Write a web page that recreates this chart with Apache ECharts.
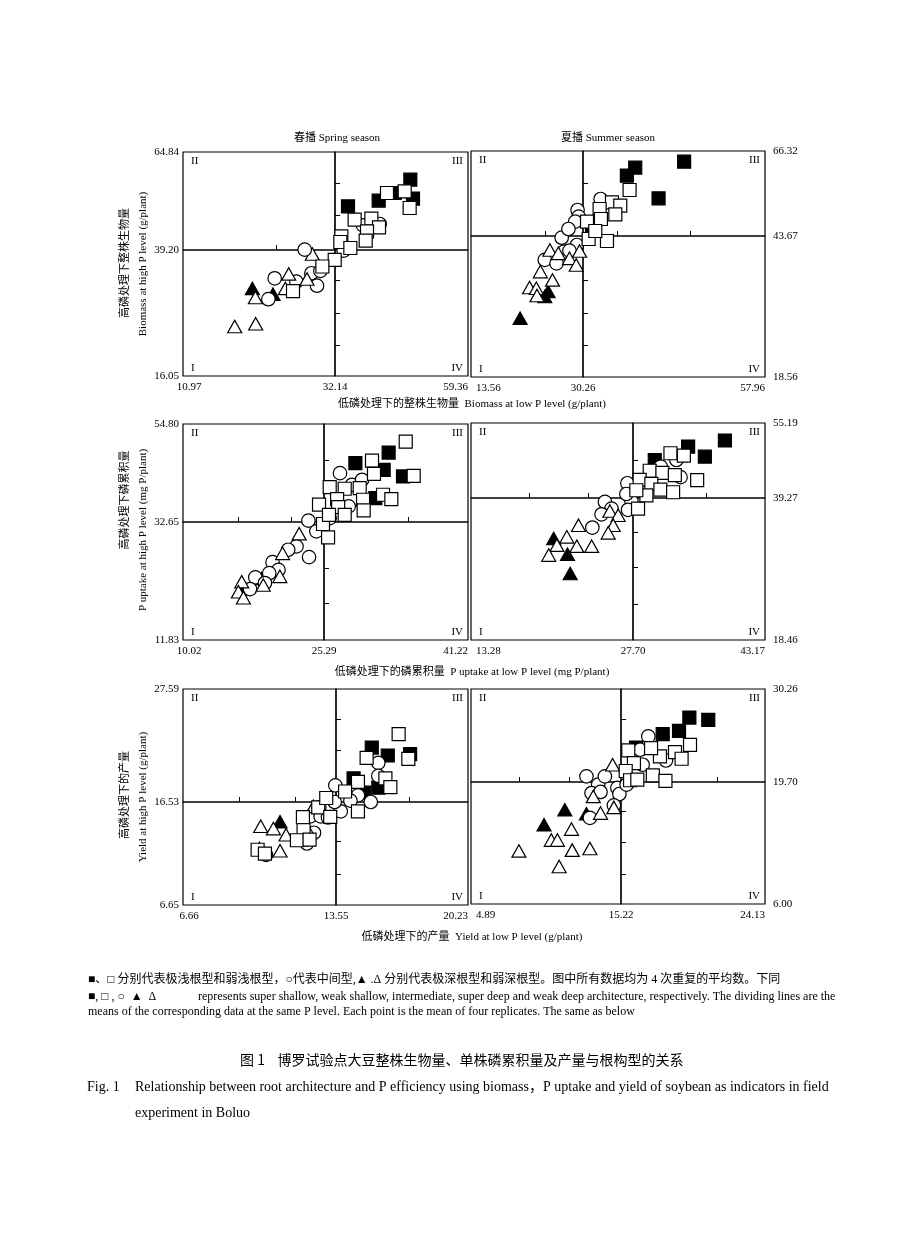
<!DOCTYPE html>
<html>
<head>
<meta charset="utf-8">
<script src="https://cdn.jsdelivr.net/npm/echarts@6/dist/echarts.min.js"></script>
<style>
html,body{margin:0;padding:0;background:#fff;}
#chart{width:920px;height:1249px;}
</style>
</head>
<body>
<div id="chart"></div>
<script>
// ================= DATA =================
const seasonTitles = ['春播 Spring season', '夏播 Summer season'];
const xNames = [
  '低磷处理下的整株生物量  Biomass at low P level (g/plant)',
  '低磷处理下的磷累积量  P uptake at low P level (mg P/plant)',
  '低磷处理下的产量  Yield at low P level (g/plant)'
];
const yNamesCn = ['高磷处理下整株生物量', '高磷处理下磷累积量', '高磷处理下的产量'];
const yNamesEn = ['Biomass at high P level (g/plant)', 'P uptake at high P level (mg P/plant)', 'Yield at high P level (g/plant)'];
const quadrantNames = ['I', 'II', 'III', 'IV'];

// axis tick labels [min, mean (dividing line), max]
const bioSpringX = [10.97, 32.14, 59.36];
const bioSpringY = [16.05, 39.20, 64.84];
const bioSummerX = [13.56, 30.26, 57.96];
const bioSummerY = [18.56, 43.67, 66.32];
const upSpringX = [10.02, 25.29, 41.22];
const upSpringY = [11.83, 32.65, 54.80];
const upSummerX = [13.28, 27.70, 43.17];
const upSummerY = [18.46, 39.27, 55.19];
const yldSpringX = [6.66, 13.55, 20.23];
const yldSpringY = [6.65, 16.53, 27.59];
const yldSummerX = [4.89, 15.22, 24.13];
const yldSummerY = [6.00, 19.70, 30.26];

// small inner tick marks on the dividing lines
const bioSpringXTicks = [24.02];
const bioSpringYTicks = [56.73, 48.36, 33.64, 27.53, 21.61];
const bioSummerXTicks = [24.56, 35.47, 46.56];
const bioSummerYTicks = [57.71, 35.83, 29.90, 24.26];
const upSpringXTicks = [16.02, 21.78, 34.60];
const upSpringYTicks = [46.69, 24.51, 18.32];
const upSummerXTicks = [18.49, 23.73, 36.32];
const upSummerYTicks = [47.30, 34.30, 29.09, 23.72];
const yldSpringXTicks = [9.20, 11.71, 17.25];
const yldSpringYTicks = [24.66, 21.64, 12.74, 9.63];
const yldSummerXTicks = [8.23, 11.69, 21.20];
const yldSummerYTicks = [26.83, 16.39, 12.90, 9.38];

// ---- Biomass, spring ----
const bioSpringSuperShallow = [[34.80,50.62],[41.08,52.11],[44.35,54.11],[47.56,57.60],[48.10,52.63]];
const bioSpringWeakShallow = [[42.78,54.11],[46.40,54.55],[47.42,50.19],[36.16,47.14],[39.58,47.40],[41.15,45.13],[38.69,44.08],[33.44,42.78],[33.23,41.29],[35.28,39.72],[38.42,41.64],[32.10,37.40],[30.38,36.17],[26.29,31.65]];
const bioSpringIntermediate = [[27.92,39.29],[23.74,34.00],[22.86,30.16],[26.76,33.38],[28.85,34.93],[29.63,32.64],[33.91,39.08],[37.87,45.65],[41.28,46.00],[30.10,35.36]];
const bioSpringSuperDeep = [[20.63,32.14],[23.51,31.09]];
const bioSpringWeakDeep = [[28.98,38.46],[25.69,34.81],[28.24,33.88],[25.22,32.14],[21.05,30.47],[18.17,25.15],[21.09,25.64]];

// ---- Biomass, summer ----
const bioSummerSuperShallow = [[45.65,63.48],[38.21,61.88],[36.94,59.75],[41.76,53.71],[31.63,46.60]];
const bioSummerWeakShallow = [[37.35,55.93],[34.67,52.64],[35.93,51.75],[32.79,50.87],[35.18,49.44],[32.99,48.20],[30.87,47.49],[31.12,43.14],[33.91,42.78],[32.13,45.00]];
const bioSummerIntermediate = [[32.94,53.53],[29.45,50.60],[29.60,48.82],[29.10,47.49],[28.09,45.54],[27.08,43.37],[29.35,42.07],[27.44,40.89],[24.56,39.41],[26.32,38.81],[28.24,41.06]];
const bioSummerSuperDeep = [[20.88,29.04],[24.56,32.89],[25.06,33.78]];
const bioSummerWeakDeep = [[25.32,41.18],[26.58,40.58],[28.24,39.69],[29.75,40.99],[29.25,38.50],[23.90,37.33],[25.71,35.85],[22.29,34.49],[23.30,34.37],[23.40,33.07]];

// ---- P uptake, spring ----
const upSpringSuperShallow = [[28.76,45.94],[32.44,48.34],[31.89,44.44],[34.03,42.94],[30.97,38.06]];
const upSpringWeakShallow = [[34.33,50.82],[30.60,46.54],[30.82,43.54],[35.21,43.09],[25.92,40.53],[27.58,40.16],[29.24,40.31],[26.74,37.83],[29.61,37.68],[31.82,38.81],[32.74,37.83],[24.75,36.56],[26.86,36.03],[29.68,35.27],[25.84,34.27],[27.58,34.27],[25.18,32.30],[25.74,29.94]];
const upSpringIntermediate = [[27.06,43.69],[28.39,41.06],[29.50,42.19],[28.02,36.18],[25.92,33.53],[23.60,32.95],[24.46,31.00],[22.31,28.34],[21.41,27.75],[23.67,26.46],[19.72,25.57],[20.36,24.21],[19.36,23.62],[17.85,22.88],[18.89,21.88],[17.28,20.82]];
const upSpringSuperDeep = [[16.56,20.82],[18.53,22.70]];
const upSpringWeakDeep = [[22.60,30.59],[20.80,27.12],[20.51,23.06],[18.71,21.53],[16.38,22.12],[16.02,20.35],[16.56,19.29]];

// ---- P uptake, summer ----
const upSummerSuperShallow = [[38.47,51.48],[34.16,50.19],[36.12,48.05],[30.25,47.34]];
const upSummerWeakShallow = [[32.09,48.77],[33.66,48.27],[29.66,45.05],[31.15,44.62],[32.60,44.12],[35.22,43.05],[28.48,43.12],[29.85,42.26],[30.91,41.05],[32.40,40.49],[29.27,39.84],[28.29,37.71],[28.09,40.91]];
const upSummerIntermediate = [[32.79,47.34],[30.95,45.91],[33.27,43.69],[27.20,42.40],[27.11,40.12],[27.56,38.83],[27.26,37.54],[25.20,38.69],[25.79,37.71],[24.90,36.88],[24.08,34.94]];
const upSummerSuperDeep = [[20.64,33.34],[21.87,31.02],[22.11,28.20]];
const upSummerWeakDeep = [[25.64,37.37],[26.38,36.74],[25.94,35.28],[25.49,34.16],[22.85,35.28],[21.81,33.58],[20.93,32.36],[20.20,30.90],[22.70,32.21],[24.02,32.21]];

// ---- Yield, spring ----
const yldSpringSuperShallow = [[15.36,21.86],[16.17,21.08],[17.30,21.21],[14.44,18.84],[15.69,17.93],[14.98,17.44]];
const yldSpringWeakShallow = [[16.72,23.17],[15.10,20.84],[17.21,20.75],[16.05,18.84],[16.30,17.99],[14.66,18.50],[14.01,17.56],[13.11,16.92],[14.66,15.63],[12.06,15.07],[12.75,16.02],[13.29,15.11],[12.09,13.82],[11.79,12.86],[12.36,12.92],[10.02,11.95],[10.35,11.57]];
const yldSpringIntermediate = [[15.69,20.36],[15.69,19.09],[13.52,18.16],[13.49,16.53],[14.66,17.18],[14.28,16.66],[15.31,16.53],[13.79,15.63],[12.80,16.02],[12.39,15.15],[12.86,15.15],[13.19,15.05],[12.56,13.58],[12.24,12.55],[10.40,11.46]];
const yldSpringSuperDeep = [[11.03,14.64],[10.10,12.07]];
const yldSpringWeakDeep = [[12.54,16.11],[10.16,14.20],[10.73,13.98],[11.30,13.39],[12.24,13.98],[11.94,12.92],[11.03,11.85]];

// ---- Yield, summer ----
const yldSummerSuperShallow = [[20.62,26.75],[19.45,27.02],[18.81,25.51],[17.80,25.13],[16.15,23.62]];
const yldSummerWeakShallow = [[19.49,23.92],[18.56,23.09],[18.97,22.34],[17.63,22.61],[17.08,23.54],[15.67,23.28],[16.02,21.85],[15.51,20.95],[15.78,19.90],[17.19,20.46],[17.97,19.82],[16.23,19.98]];
const yldSummerIntermediate = [[16.91,24.87],[16.40,23.36],[16.56,21.66],[18.00,22.14],[12.84,20.34],[14.11,20.34],[13.65,19.40],[13.19,18.46],[13.81,18.58],[14.97,19.03],[15.11,18.35],[15.57,19.40],[14.73,17.08],[13.08,15.67]];
const yldSummerSuperDeep = [[11.35,16.59],[9.92,14.91],[12.84,16.13]];
const yldSummerWeakDeep = [[14.64,21.66],[13.31,18.08],[13.81,16.21],[14.73,16.85],[11.81,14.41],[10.42,13.18],[10.84,13.18],[11.86,12.05],[13.08,12.23],[8.19,11.96],[10.96,10.21]];

// caption texts
const noteCn = '■、□ 分别代表极浅根型和弱浅根型，○代表中间型,▲ .Δ 分别代表极深根型和弱深根型。图中所有数据均为 4 次重复的平均数。下同';
const noteSymbols = '■, □ , ○  ▲  Δ';
const noteEn1 = 'represents super shallow, weak shallow, intermediate, super deep and weak deep architecture, respectively. The dividing lines are the';
const noteEn2 = 'means of the corresponding data at the same P level. Each point is the mean of four replicates. The same as below';
const figTitleCn = '图 1    博罗试验点大豆整株生物量、单株磷累积量及产量与根构型的关系';
const figLabelEn = 'Fig. 1';
const figTitleEn1 = 'Relationship between root architecture and P efficiency using biomass，P uptake and yield of soybean as indicators in field';
const figTitleEn2 = 'experiment in Boluo';

// ================= LAYOUT / STYLE =================
const PANELS = [
  {xs: bioSpringX, ys: bioSpringY, xt: bioSpringXTicks, yt: bioSpringYTicks,
   pts: [bioSpringSuperShallow, bioSpringWeakShallow, bioSpringIntermediate, bioSpringSuperDeep, bioSpringWeakDeep]},
  {xs: bioSummerX, ys: bioSummerY, xt: bioSummerXTicks, yt: bioSummerYTicks,
   pts: [bioSummerSuperShallow, bioSummerWeakShallow, bioSummerIntermediate, bioSummerSuperDeep, bioSummerWeakDeep]},
  {xs: upSpringX, ys: upSpringY, xt: upSpringXTicks, yt: upSpringYTicks,
   pts: [upSpringSuperShallow, upSpringWeakShallow, upSpringIntermediate, upSpringSuperDeep, upSpringWeakDeep]},
  {xs: upSummerX, ys: upSummerY, xt: upSummerXTicks, yt: upSummerYTicks,
   pts: [upSummerSuperShallow, upSummerWeakShallow, upSummerIntermediate, upSummerSuperDeep, upSummerWeakDeep]},
  {xs: yldSpringX, ys: yldSpringY, xt: yldSpringXTicks, yt: yldSpringYTicks,
   pts: [yldSpringSuperShallow, yldSpringWeakShallow, yldSpringIntermediate, yldSpringSuperDeep, yldSpringWeakDeep]},
  {xs: yldSummerX, ys: yldSummerY, xt: yldSummerXTicks, yt: yldSummerYTicks,
   pts: [yldSummerSuperShallow, yldSummerWeakShallow, yldSummerIntermediate, yldSummerSuperDeep, yldSummerWeakDeep]}
];
// [left, top, right, bottom, dividerX, dividerY] in px
const LAYOUT = [
  [183, 152, 468, 376, 335, 250],
  [471, 151, 765, 377, 583, 236],
  [183, 424, 468, 640, 324, 522],
  [471, 423, 765, 640, 633, 498],
  [183, 689, 468, 905, 336, 802],
  [471, 689, 765, 904, 621, 782]
];
// marker styles, index matches pts order; z = draw order
const MARKERS = [
  {symbol: 'rect', size: 13, fill: '#000', z: 2},
  {symbol: 'rect', size: 13, fill: '#fff', z: 5},
  {symbol: 'circle', size: 13.5, fill: '#fff', z: 4},
  {symbol: 'triangle', size: [14, 12.5], fill: '#000', z: 3},
  {symbol: 'triangle', size: [14, 12.5], fill: '#fff', z: 4}
];
const SERIF = '"Liberation Serif", "Noto Sans CJK SC", serif';
const labelStyle = {color: '#000', fontFamily: SERIF, fontSize: 11};

const grids = [], xAxes = [], yAxes = [], series = [];
const fmt = v => Number(v).toFixed(2);

function labelAxis(type, gi, range, values, extra) {
  return Object.assign({
    type: 'value', gridIndex: gi, min: range[0], max: range[1],
    axisLine: {show: false}, splitLine: {show: false}, axisTick: {show: false},
    axisLabel: Object.assign({show: true, customValues: values, formatter: fmt}, labelStyle, extra.label || {})
  }, extra.axis || {});
}

PANELS.forEach((p, pi) => {
  const [L, T, R, B, XD, YD] = LAYOUT[pi];
  const rightCol = pi % 2 === 1;
  const quads = [
    {key: 'BL', left: L, top: YD, w: XD - L, h: B - YD, xr: [p.xs[0], p.xs[1]], yr: [p.ys[0], p.ys[1]]},
    {key: 'BR', left: XD, top: YD, w: R - XD, h: B - YD, xr: [p.xs[1], p.xs[2]], yr: [p.ys[0], p.ys[1]]},
    {key: 'TL', left: L, top: T, w: XD - L, h: YD - T, xr: [p.xs[0], p.xs[1]], yr: [p.ys[1], p.ys[2]]},
    {key: 'TR', left: XD, top: T, w: R - XD, h: YD - T, xr: [p.xs[1], p.xs[2]], yr: [p.ys[1], p.ys[2]]}
  ];
  quads.forEach(q => {
    const gi = grids.length;
    grids.push({left: q.left, top: q.top, width: q.w, height: q.h, show: true,
      borderColor: '#000', borderWidth: 1.2, backgroundColor: 'rgba(0,0,0,0)'});
    const isBottom = q.key[0] === 'B';
    const isLeft = q.key[1] === 'L';

    // main X axis of the quadrant (used by series, carries ticks on divider)
    const xTicks = isBottom ? [] : p.xt.filter(v => v > q.xr[0] && v < q.xr[1]);
    const xi = xAxes.length;
    xAxes.push({
      type: 'value', gridIndex: gi, min: q.xr[0], max: q.xr[1], position: 'bottom',
      axisLine: {show: false}, splitLine: {show: false},
      axisTick: {show: xTicks.length > 0, inside: true, length: 5, customValues: xTicks,
        lineStyle: {color: '#000', width: 1}},
      axisLabel: {show: false}
    });
    // x labels, one axis per alignment
    if (q.key === 'BL') {
      xAxes.push(labelAxis('x', gi, q.xr, [q.xr[0]], {axis: {position: 'bottom'},
        label: rightCol ? {align: 'left', margin: 6, padding: [0, 0, 0, 5]}
                        : {align: 'center', margin: 6, padding: [0, 0, 0, 12]}}));
    }
    if (q.key === 'BR') {
      xAxes.push(labelAxis('x', gi, q.xr, [q.xr[0]], {axis: {position: 'bottom'},
        label: {align: 'center', margin: 6}}));
      xAxes.push(labelAxis('x', gi, q.xr, [q.xr[1]], {axis: {position: 'bottom'},
        label: {align: 'right', margin: 6}}));
    }

    // main Y axis (left of quadrant) - used by series
    const yTicks = isLeft ? [] : p.yt.filter(v => v > q.yr[0] && v < q.yr[1]);
    const yi = yAxes.length;
    yAxes.push({
      type: 'value', gridIndex: gi, min: q.yr[0], max: q.yr[1], position: 'left',
      axisLine: {show: false}, splitLine: {show: false},
      axisTick: {show: yTicks.length > 0, inside: true, length: 5, customValues: yTicks,
        lineStyle: {color: '#000', width: 1}},
      axisLabel: {show: false}
    });
    // y labels
    if (!rightCol && isLeft) {
      const vals = isBottom ? [q.yr[0], q.yr[1]] : [q.yr[1]];
      yAxes.push(labelAxis('y', gi, q.yr, vals, {axis: {position: 'left'}, label: {margin: 4}}));
    }
    if (rightCol && !isLeft) {
      const vals = isBottom ? [q.yr[0], q.yr[1]] : [q.yr[1]];
      yAxes.push(labelAxis('y', gi, q.yr, vals, {axis: {position: 'right'}, label: {margin: 8}}));
    }

    // series for each marker type
    p.pts.forEach((arr, mi) => {
      const data = arr.filter(d => {
        const inX = isLeft ? d[0] < p.xs[1] : d[0] >= p.xs[1];
        const inY = isBottom ? d[1] < p.ys[1] : d[1] >= p.ys[1];
        return inX && inY;
      });
      if (!data.length) return;
      const m = MARKERS[mi];
      series.push({
        type: 'scatter', xAxisIndex: xi, yAxisIndex: yi, data: data,
        symbol: m.symbol, symbolSize: m.size, clip: false, silent: true, z: m.z,
        itemStyle: {color: m.fill, borderColor: '#000', borderWidth: 1.2, opacity: 1}
      });
    });
  });
});

// ---- graphic texts ----
const graphics = [];
function txt(text, x, y, opts) {
  opts = opts || {};
  graphics.push({
    type: 'text', x: x, y: y, rotation: opts.rotation || 0, silent: true,
    style: {text: text, fill: '#000', font: (opts.size || 11) + 'px ' + (opts.family || SERIF),
      textAlign: opts.align || 'left', textVerticalAlign: 'middle'}
  });
}
// season titles
txt(seasonTitles[0], 337, 138, {align: 'center'});
txt(seasonTitles[1], 608, 138, {align: 'center'});
// x axis names (centered between columns)
const xNameY = [404, 672, 937];
xNames.forEach((n, i) => txt(n, 472, xNameY[i], {align: 'center'}));
// y axis names (rotated)
const yNameCnY = [263, 500, 795];
const yNameEnY = [264, 530, 797];
yNamesCn.forEach((n, i) => txt(n, 125, yNameCnY[i], {align: 'center', rotation: Math.PI / 2}));
yNamesEn.forEach((n, i) => txt(n, 143, yNameEnY[i], {align: 'center', rotation: Math.PI / 2}));
// quadrant numerals
LAYOUT.forEach(l => {
  const [L, T, R, B] = l;
  txt(quadrantNames[1], L + 8, T + 9);
  txt(quadrantNames[2], R - 5, T + 9, {align: 'right'});
  txt(quadrantNames[0], L + 8, B - 8);
  txt(quadrantNames[3], R - 5, B - 8, {align: 'right'});
});
// captions
txt(noteCn, 88, 980, {size: 12});
txt(noteSymbols, 88, 997, {size: 12});
txt(noteEn1, 198, 997, {size: 12});
txt(noteEn2, 88, 1012, {size: 12});
txt(figTitleCn, 240, 1060, {size: 14, family: '"Noto Sans CJK SC", sans-serif'});
txt(figLabelEn, 87, 1087, {size: 14});
txt(figTitleEn1, 135, 1087, {size: 14});
txt(figTitleEn2, 135, 1113, {size: 14});

const chart = echarts.init(document.getElementById('chart'), null, {renderer: 'canvas'});
chart.setOption({
  backgroundColor: '#fff',
  animation: false,
  grid: grids,
  xAxis: xAxes,
  yAxis: yAxes,
  series: series,
  graphic: graphics
});
</script>
</body>
</html>
